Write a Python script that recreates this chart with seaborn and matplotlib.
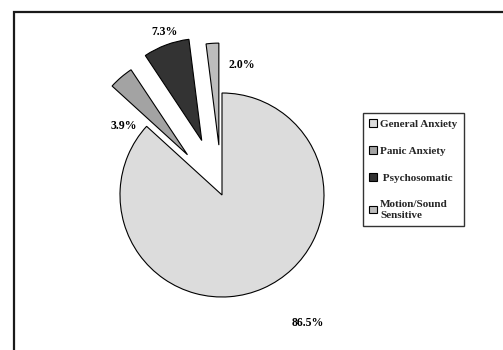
import matplotlib
matplotlib.use("Agg")
import matplotlib.pyplot as plt
from matplotlib.patches import Patch, Rectangle
import seaborn as sns

# Survey breakdown of reported symptom types (percent of respondents)
categories = ["General Anxiety", "Panic Anxiety", " Psychosomatic", "Motion/Sound\nSensitive"]
shares = [86.5, 3.9, 7.3, 2.0]
pct_labels = ["86.5%", "3.9%", "7.3%", "2.0%"]
colors = ["#dcdcdc", "#a3a3a3", "#333333", "#bdbdbd"]
explode = [0.0, 0.52, 0.57, 0.49]

sns.set_theme(style="white")
plt.rcParams["font.family"] = ["Liberation Serif", "DejaVu Serif"]

W, H = 503, 350
fig = plt.figure(figsize=(W / 100, H / 100), dpi=100)
fig.patch.set_facecolor("white")

# pie centre in pixels and radius in pixels
cx, cy, r = 222, 195, 102
ax = fig.add_axes([0, 0, 1, 1])
wedges, _ = ax.pie(
    shares,
    colors=colors,
    explode=explode,
    startangle=90,
    counterclock=False,
    radius=1.0,
    wedgeprops=dict(edgecolor="black", linewidth=0.8),
)
ax.set_aspect("auto")
ax.set_xlim(-cx / r, (W - cx) / r)
ax.set_ylim(-(H - cy) / r, cy / r)
ax.axis("off")

# percentage labels around the pie
label_pos = [(0.84, -1.25), (-0.96, 0.68), (-0.56, 1.60), (0.19, 1.27)]
for txt, (lx, ly) in zip(pct_labels, label_pos):
    ax.text(lx, ly, txt, ha="center", va="center", fontsize=8.5,
            fontweight="bold", color="black")

# outer chart border
fig.patches.append(Rectangle((14 / W, -0.1), 1.2, 1 - 12 / H + 0.1,
                             transform=fig.transFigure, fill=False,
                             edgecolor="#1a1a1a", linewidth=1.6))

handles = [Patch(facecolor=c, edgecolor="black", linewidth=0.8) for c in colors]
leg = fig.legend(
    handles, categories,
    loc="upper left",
    bbox_to_anchor=(363 / W, 1 - 113 / H),
    borderaxespad=0,
    frameon=True,
    fancybox=False,
    shadow=False,
    handlelength=0.7,
    handleheight=0.7,
    handletextpad=0.3,
    labelspacing=1.55,
    borderpad=0.55,
    prop=dict(family="Liberation Serif", weight="bold", size=8),
)
leg.get_frame().set_edgecolor("black")
leg.get_frame().set_linewidth(1.0)

fig.savefig("out.png", dpi=100, facecolor="white")
